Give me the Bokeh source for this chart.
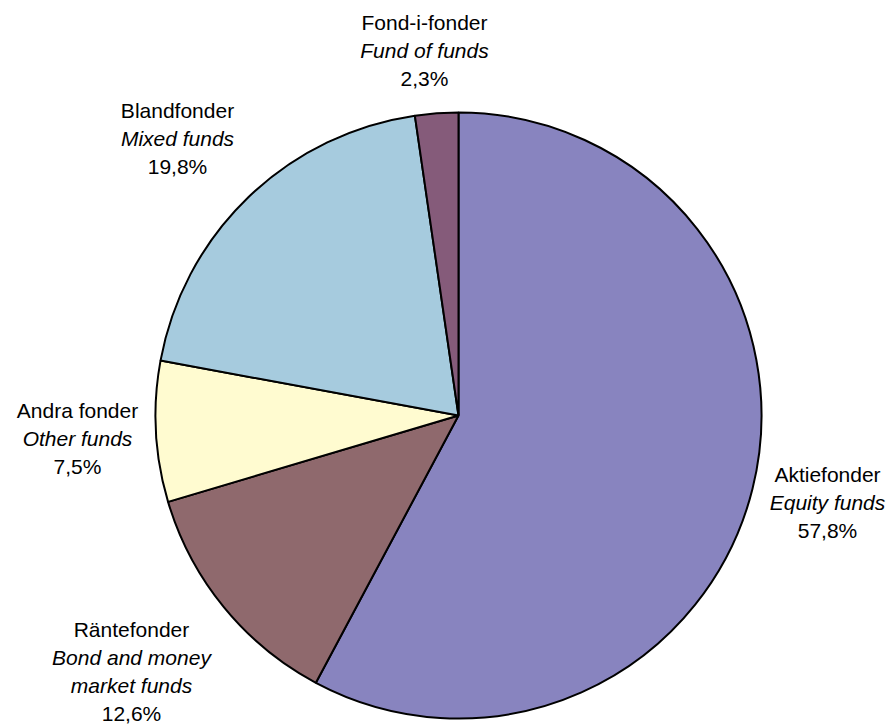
import math
from bokeh.plotting import figure
from bokeh.models import ColumnDataSource, Range1d
from bokeh.core.properties import value
from bokeh.embed import file_html
from bokeh.resources import INLINE

# ---- data ----
names_sv = ["Aktiefonder", "Räntefonder", "Andra fonder", "Blandfonder", "Fond-i-fonder"]
names_en = [["Equity funds"], ["Bond and money", "market funds"], ["Other funds"],
            ["Mixed funds"], ["Fund of funds"]]
shares = [57.8, 12.6, 7.5, 19.8, 2.3]
colors = ["#8884BF", "#8F696D", "#FFFBD0", "#A6CBDE", "#855B7A"]

# ---- layout (page pixel coordinates) ----
W, H = 891, 728
cx_page, cy_page, R = 458, 415, 303
label_centers = [(827, 502), (131, 671), (77, 438), (177, 138), (424, 50)]
LINE_H = 28
FONT = "Liberation Sans"
FSIZE = "21px"


def ty(py):
    return H - py


# wedges, clockwise from 12 o'clock
total = sum(shares)
starts, ends = [], []
a = 90.0
for s in shares:
    starts.append(math.radians(a))
    a -= s / total * 360.0
    ends.append(math.radians(a))

wsrc = ColumnDataSource(dict(x=[cx_page] * len(shares), y=[ty(cy_page)] * len(shares),
                             start=starts, end=ends, color=colors))

p = figure(width=W, height=H, output_backend="svg", toolbar_location=None,
           x_range=Range1d(0, W), y_range=Range1d(0, H),
           min_border=0, outline_line_color=None)
p.axis.visible = False
p.grid.visible = False
p.background_fill_color = "white"

p.wedge(x="x", y="y", radius=R, radius_units="data", start_angle="start", end_angle="end",
        direction="clock", fill_color="color", line_color="black", line_width=2,
        source=wsrc)

# labels
norm = dict(x=[], y=[], t=[])
ital = dict(x=[], y=[], t=[])
for i in range(len(shares)):
    lines = [(names_sv[i], norm)] + [(l, ital) for l in names_en[i]] + \
            [(f"{shares[i]:.1f}".replace(".", ",") + "%", norm)]
    n = len(lines)
    lx, ly = label_centers[i]
    for k, (txt, dst) in enumerate(lines):
        dst["x"].append(lx)
        dst["y"].append(ty(ly + (k - (n - 1) / 2) * LINE_H))
        dst["t"].append(txt)

for d, style in ((norm, "normal"), (ital, "italic")):
    p.text(x="x", y="y", text="t", source=ColumnDataSource(d), text_align="center",
           text_baseline="middle", text_font=value(FONT), text_font_size=FSIZE,
           text_font_style=style, text_color="black")

open("out.html", "w").write(file_html(p, INLINE))
